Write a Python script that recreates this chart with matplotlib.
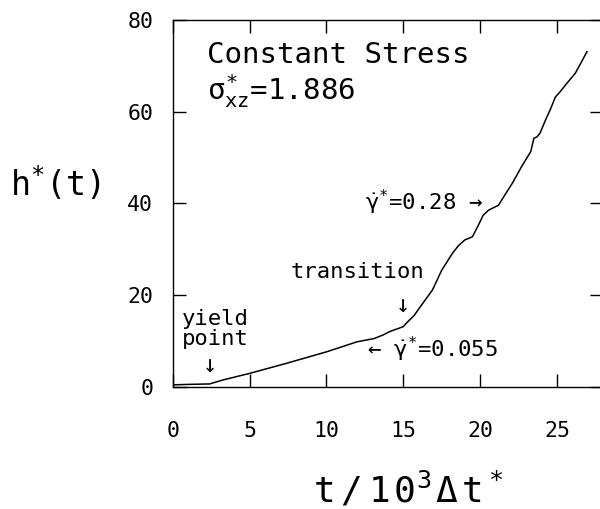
import matplotlib
matplotlib.use("Agg")
import matplotlib.pyplot as plt

plt.rcParams['font.family'] = ['DejaVu Sans Mono', 'DejaVu Sans']
plt.rcParams['mathtext.fontset'] = 'custom'
plt.rcParams['mathtext.rm'] = 'DejaVu Sans Mono'
plt.rcParams['mathtext.it'] = 'DejaVu Sans Mono'
plt.rcParams['mathtext.bf'] = 'DejaVu Sans Mono:bold'

t = [0.0, 1.0, 2.4, 3.3, 5.0, 7.4, 10.0, 12.0, 13.1, 13.7, 14.1, 15.0, 15.3,
     15.7, 16.1, 16.9, 17.5, 18.2, 18.6, 19.0, 19.5, 19.9, 20.2, 20.55, 21.2,
     21.4, 22.1, 22.7, 23.3, 23.5, 23.7, 23.9, 24.3, 24.6, 24.9, 25.2, 25.65,
     26.2, 26.96]
h = [0.4, 0.5, 0.6, 1.5, 2.9, 5.1, 7.6, 9.8, 10.5, 11.3, 12.0, 13.1, 14.2,
     15.5, 17.4, 21.1, 25.4, 29.1, 30.8, 32.0, 32.7, 35.3, 37.4, 38.5, 39.6,
     40.7, 44.4, 48.0, 51.3, 54.2, 54.5, 55.3, 58.5, 60.7, 63.2, 64.3, 66.2,
     68.4, 73.1]

xticks = [0, 5, 10, 15, 20, 25]
yticks = [0, 20, 40, 60, 80]

fig = plt.figure(figsize=(6.0, 5.09), dpi=100)
ax = fig.add_axes([0.288, 0.2403, 0.717, 0.7204])
ax.plot(t, h, color='black', lw=1.1)
ax.set_xlim(0, 28)
ax.set_ylim(0, 80)
ax.set_xticks(xticks)
ax.set_yticks(yticks)
ax.tick_params(direction='in', length=9.5, width=1.0, top=True, right=True,
               labelsize=15.5)
ax.tick_params(axis='x', pad=25)
ax.tick_params(axis='y', pad=14)
for s in ax.spines.values():
    s.set_linewidth(1.0)

fig.text(0.522, 0.012,
         r'$\mathrm{t}\;/\;\mathrm{1}\,\mathrm{0}^{3}\,\Delta\,\mathrm{t}^{\,*}$',
         fontsize=26, ha='left', va='baseline')
fig.text(0.092, 0.64, r'$\mathrm{h}^{*}$(t)', fontsize=24, ha='center', va='center')

ax.text(2.2, 70.6, 'Constant Stress', fontsize=21, va='baseline')
ax.text(2.2, 62.5, r'$\sigma^{*}_{xz}$=1.886', fontsize=21, va='baseline')
ax.text(12.5, 40.3, r'$\dot{\gamma}^{*}$=0.28 →', fontsize=16, va='center')
ax.text(7.65, 23.7, 'transition', fontsize=16, va='baseline')
ax.text(15.0, 17.8, '↓', fontsize=17, ha='center', va='center')
ax.text(0.6, 13.5, 'yield', fontsize=16, va='baseline')
ax.text(0.6, 9.1, 'point', fontsize=16, va='baseline')
ax.text(2.43, 4.7, '↓', fontsize=17, ha='center', va='center')
ax.text(12.65, 6.5, r'← $\dot{\gamma}^{*}$=0.055', fontsize=16, va='baseline')

fig.savefig('out.png', dpi=100)
